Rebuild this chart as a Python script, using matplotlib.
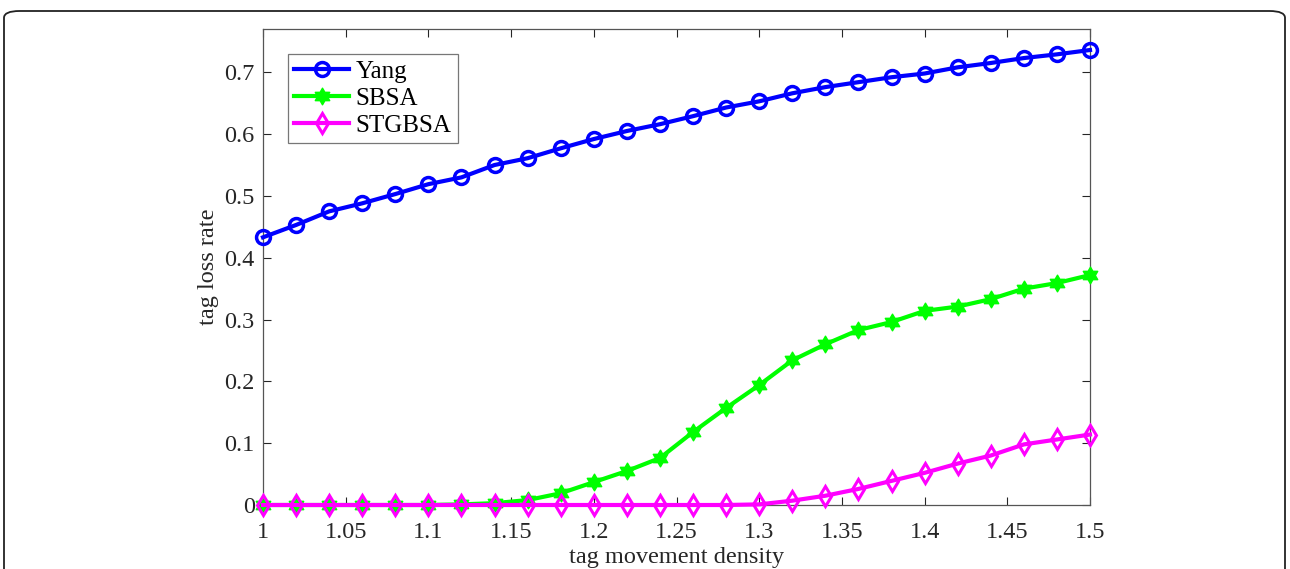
import numpy as np
import matplotlib
matplotlib.use("Agg")
import matplotlib.pyplot as plt
from matplotlib.path import Path
from matplotlib.patches import FancyBboxPatch

x_vals = [1.00, 1.02, 1.04, 1.06, 1.08, 1.10, 1.12, 1.14, 1.16, 1.18, 1.20, 1.22, 1.24,
          1.26, 1.28, 1.30, 1.32, 1.34, 1.36, 1.38, 1.40, 1.42, 1.44, 1.46, 1.48, 1.50]
yang = [0.433, 0.453, 0.475, 0.488, 0.503, 0.519, 0.530, 0.550, 0.561, 0.577, 0.592, 0.605, 0.616,
        0.629, 0.643, 0.653, 0.666, 0.676, 0.684, 0.692, 0.698, 0.708, 0.715, 0.723, 0.729, 0.736]
sbsa = [0.0, 0.0, 0.0, 0.0, 0.0, 0.0, 0.001, 0.003, 0.008, 0.019, 0.037, 0.055, 0.076,
        0.118, 0.157, 0.194, 0.234, 0.260, 0.283, 0.296, 0.314, 0.321, 0.333, 0.350, 0.359, 0.372]
stgbsa = [0.0, 0.0, 0.0, 0.0, 0.0, 0.0, 0.0, 0.0, 0.0, 0.0, 0.0, 0.0, 0.0,
          0.0, 0.0, 0.001, 0.007, 0.015, 0.026, 0.039, 0.052, 0.067, 0.080, 0.098, 0.106, 0.114]
labels = ["Yang", "SBSA", "STGBSA"]
xticks = [1, 1.05, 1.1, 1.15, 1.2, 1.25, 1.3, 1.35, 1.4, 1.45, 1.5]
xtick_labels = ["1", "1.05", "1.1", "1.15", "1.2", "1.25", "1.3", "1.35", "1.4", "1.45", "1.5"]
yticks = [0, 0.1, 0.2, 0.3, 0.4, 0.5, 0.6, 0.7]
ytick_labels = ["0", "0.1", "0.2", "0.3", "0.4", "0.5", "0.6", "0.7"]

# hexagram marker (six-pointed star)
def hexagram():
    verts = []
    for i in range(12):
        ang = np.pi / 2 + i * np.pi / 6
        r = 1.0 if i % 2 == 0 else 0.58
        verts.append((r * np.cos(ang), r * np.sin(ang)))
    verts.append(verts[0])
    codes = [Path.MOVETO] + [Path.LINETO] * 11 + [Path.CLOSEPOLY]
    return Path(verts, codes)

plt.rcParams['font.family'] = ['Liberation Serif', 'DejaVu Serif']

fig = plt.figure(figsize=(12.9, 5.69), dpi=100)
ax = fig.add_axes([263 / 1290, 1 - 505 / 569, (1090 - 263) / 1290, (505 - 29) / 569])

# rounded frame around the figure
frame = FancyBboxPatch((4 / 1290, -0.2), 1281 / 1290, 1.2 - 11 / 569,
                       boxstyle="round,pad=0,rounding_size=0.012",
                       transform=fig.transFigure, facecolor='none',
                       edgecolor='#222222', linewidth=1.3, clip_on=False)
fig.patches.append(frame)

ax.plot(x_vals, yang, color='#0000ff', lw=3, marker='o', ms=10, mfc='none',
        mec='#0000ff', mew=2.5, label=labels[0], clip_on=False, zorder=3)
ax.plot(x_vals, sbsa, color='#00ff00', lw=3, marker=hexagram(), ms=12, mfc='#00ff00',
        mec='#00ff00', mew=1, label=labels[1], clip_on=False, zorder=3)
ax.plot(x_vals, stgbsa, color='#ff00ff', lw=3, marker='d', ms=10, mfc='none',
        mec='#ff00ff', mew=2.2, label=labels[2], clip_on=False, zorder=4)

ax.set_xlim(1, 1.5)
ax.set_ylim(0, 0.77)
ax.set_xticks(xticks)
ax.set_xticklabels(xtick_labels)
ax.set_yticks(yticks)
ax.set_yticklabels(ytick_labels)
ax.tick_params(direction='in', top=True, right=True, length=6, width=0.8,
               labelsize=17.5, colors='#262626')
ax.tick_params(axis='x', pad=12)
ax.tick_params(axis='y', pad=6)
for s in ax.spines.values():
    s.set_color('#555555')
    s.set_linewidth(0.9)

ax.set_xlabel("tag movement density", fontsize=17.5, color='#262626', labelpad=3)
ax.set_ylabel("tag loss rate", fontsize=17.5, color='#262626', labelpad=4)

leg = ax.legend(loc='upper left', bbox_to_anchor=(25 / 827, 1 - 25 / 476), fontsize=18,
                frameon=True, fancybox=False, edgecolor='#555555', handlelength=2.2,
                handletextpad=0.25, borderpad=0.25, labelspacing=0.18, borderaxespad=0)
leg.get_frame().set_linewidth(0.9)

fig.savefig("out.png", dpi=100)
